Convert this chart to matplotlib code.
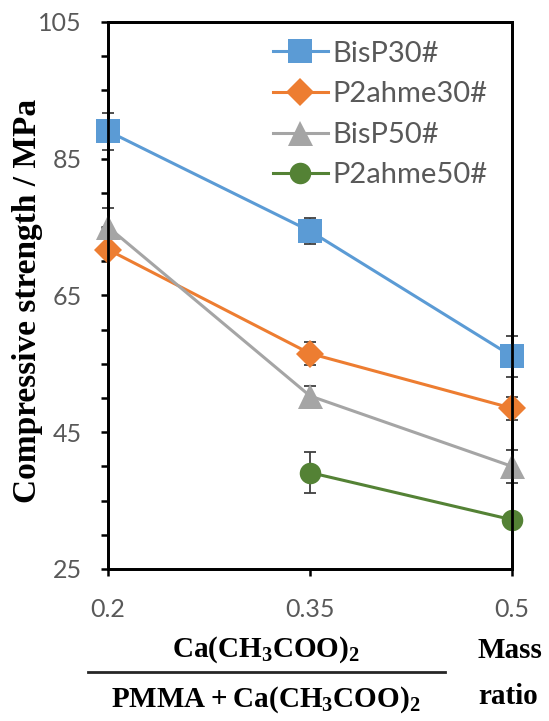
import numpy as np
import matplotlib
matplotlib.use("Agg")
import matplotlib.pyplot as plt
from matplotlib.ticker import MultipleLocator, FixedLocator
from matplotlib.lines import Line2D

plt.rcParams["mathtext.fontset"] = "custom"
plt.rcParams["mathtext.rm"] = "Liberation Serif"
plt.rcParams["mathtext.bf"] = "Liberation Serif:bold"

# data
mass_ratio = [0.2, 0.35, 0.5]
tick_labels = ["0.2", "0.35", "0.5"]
y_ticks = [25, 45, 65, 85, 105]
series_names = ["BisP30#", "P2ahme30#", "BisP50#", "P2ahme50#"]
bisp30 = [89.0, 74.4, 56.1]
bisp30_err = [2.7, 1.9, 3.0]
p2ahme30 = [71.7, 56.5, 48.5]
p2ahme30_err = [0.8, 1.7, 1.7]
bisp50 = [75.0, 50.3, 40.0]
bisp50_err = [2.8, 1.4, 2.4]
p2ahme50 = [np.nan, 39.1, 32.2]
p2ahme50_err = [0.0, 3.05, 0.8]

values = [bisp30, p2ahme30, bisp50, p2ahme50]
errors = [bisp30_err, p2ahme30_err, bisp50_err, p2ahme50_err]
colors = ["#5B9BD5", "#ED7D31", "#A5A5A5", "#548235"]
markers = ["s", "D", "^", "o"]
msizes = [17.5, 14, 18, 15.5]

fig = plt.figure(figsize=(5.49, 7.21), dpi=100)
ax = fig.add_axes([108 / 549, 1 - 569 / 721, (512 - 108) / 549, (569 - 21.7) / 721])

for i in range(len(values)):
    ax.errorbar(mass_ratio, values[i], yerr=errors[i], fmt="none", ecolor="#404040",
                elinewidth=1.3, capsize=4, capthick=1.3, clip_on=False, zorder=2)
for i in range(len(values)):
    ax.plot(mass_ratio, values[i], color=colors[i], lw=2.2, marker=markers[i],
            markersize=msizes[i], markeredgewidth=0, clip_on=False, zorder=4)

ax.set_xlim(0.2, 0.5)
ax.set_ylim(25, 105)
ax.xaxis.set_major_locator(FixedLocator(mass_ratio))
ax.set_xticklabels(tick_labels)
ax.yaxis.set_major_locator(FixedLocator(y_ticks))
ax.yaxis.set_minor_locator(MultipleLocator(5))
for s in ax.spines.values():
    s.set_visible(True)
    s.set_linewidth(2)
    s.set_color("black")
ax.tick_params(axis="both", which="both", direction="out", length=5, width=1.8,
               colors="black", labelcolor="#595959", labelsize=18,
               top=False, right=False)
ax.tick_params(axis="y", which="major", pad=14)
ax.tick_params(axis="x", which="major", pad=16)
for lab in ax.get_xticklabels() + ax.get_yticklabels():
    lab.set_family("Lato")

# box round the plot, drawn at figure level from the axes position
pos = ax.get_position()
fig.add_artist(Line2D([pos.x0, pos.x1, pos.x1, pos.x0, pos.x0],
                      [pos.y0, pos.y0, pos.y1, pos.y1, pos.y0],
                      color="black", lw=2, solid_joinstyle="miter", zorder=3))

handles = [Line2D([], [], color=colors[i], lw=2.2, marker=markers[i],
                  markersize=msizes[i], markeredgewidth=0) for i in range(4)]
leg = fig.legend(handles, series_names, loc="upper left", bbox_to_anchor=(258 / 549, 1 - 26 / 721),
                 frameon=False, prop={"family": "Lato", "size": 21}, handlelength=1.9,
                 handletextpad=0.15, labelspacing=0.5, borderpad=0)
for t in leg.get_texts():
    t.set_color("#595959")

fig.text(28 / 549, 1 - 301 / 721, "Compressive strength / MPa", rotation=90, ha="center", va="center",
         family="Liberation Serif", weight="bold", size=24)

fig.text(266 / 549, 1 - 650 / 721, r"$\mathbf{Ca(CH_3COO)_2}$", ha="center", va="center", size=21)
fig.text(266 / 549, 1 - 700 / 721, r"$\mathbf{PMMA + Ca(CH_3COO)_2}$", ha="center", va="center", size=21)
fig.add_artist(Line2D([87.5 / 549, 444.7 / 549], [1 - 672 / 721, 1 - 672 / 721], color="#262626", lw=2))
fig.text(510 / 549, 1 - 650 / 721, "Mass", ha="center", va="center",
         family="Liberation Serif", weight="bold", size=21)
fig.text(508 / 549, 1 - 697 / 721, "ratio", ha="center", va="center",
         family="Liberation Serif", weight="bold", size=21)

fig.savefig("out.png", dpi=100)
